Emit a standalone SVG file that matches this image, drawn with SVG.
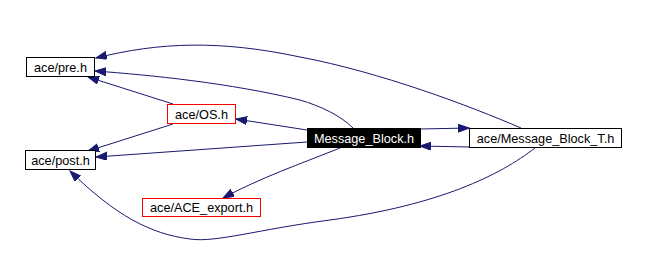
<svg xmlns="http://www.w3.org/2000/svg" width="646" height="270" viewBox="0 0 646 270">
  <style>
    .box { fill: #ffffff; stroke: #000000; stroke-width: 1; }
    .red { fill: #ffffff; stroke: #ff0000; stroke-width: 1; }
    .cur { fill: #000000; stroke: #000000; stroke-width: 1; }
    .lbl { font-family: "Liberation Sans", Arial, sans-serif; font-size: 12.7px; fill: #000000; text-anchor: middle; }
    .lblw { fill: #ffffff; }
    .edge { fill: none; stroke: #191970; stroke-width: 1; marker-end: url(#arr); }
  </style>
  <defs>
    <marker id="arr" markerUnits="userSpaceOnUse" markerWidth="12" markerHeight="9" refX="11" refY="4" orient="auto">
      <path d="M0,0 L11,4 L0,8 z" fill="#191970" stroke="#191970" stroke-width="1"/>
    </marker>
  </defs>
  <rect width="646" height="270" fill="#ffffff"/>

  <!-- dependency connectors -->
  <g id="edges">
    <path class="edge" d="M521,128 C470,106 380,72 300,57 C220,40 160,42 96,58"/>
    <path class="edge" d="M353,128 C340,115 320,106 300,100 C230,83 150,75 95,71"/>
    <path class="edge" d="M173,104 L88,77"/>
    <path class="edge" d="M307,130 L236,119"/>
    <path class="edge" d="M173,124 L88,151"/>
    <path class="edge" d="M307,142 L96,157"/>
    <path class="edge" d="M340,148 C300,164 260,178 223,198"/>
    <path class="edge" d="M420,129 L469,128"/>
    <path class="edge" d="M469,147 L420,146"/>
    <path class="edge" d="M535,148 C500,175 440,205 330,220 C260,229 215,243 190,239 C150,234 115,215 70,171"/>
  </g>

  <g id="node-pre">
    <rect class="box" x="26.5" y="57.5" width="68" height="19"/>
    <text class="lbl" x="60.5" y="72">ace/pre.h</text>
  </g>
  <g id="node-post">
    <rect class="box" x="25.5" y="150.5" width="70" height="19"/>
    <text class="lbl" x="60.5" y="164.5">ace/post.h</text>
  </g>
  <g id="node-os">
    <rect class="red" x="167.5" y="104.5" width="68" height="19"/>
    <text class="lbl" x="201.5" y="118.5">ace/OS.h</text>
  </g>
  <g id="node-message-block">
    <rect class="cur" x="307.5" y="128.5" width="113" height="19"/>
    <text class="lbl lblw" x="364" y="142.5">Message_Block.h</text>
  </g>
  <g id="node-message-block-t">
    <rect class="box" x="469.5" y="128.5" width="152" height="19"/>
    <text class="lbl" x="545.5" y="142.5">ace/Message_Block_T.h</text>
  </g>
  <g id="node-ace-export">
    <rect class="red" x="142.5" y="198.5" width="118" height="18"/>
    <text class="lbl" x="201.5" y="212">ace/ACE_export.h</text>
  </g>
</svg>
